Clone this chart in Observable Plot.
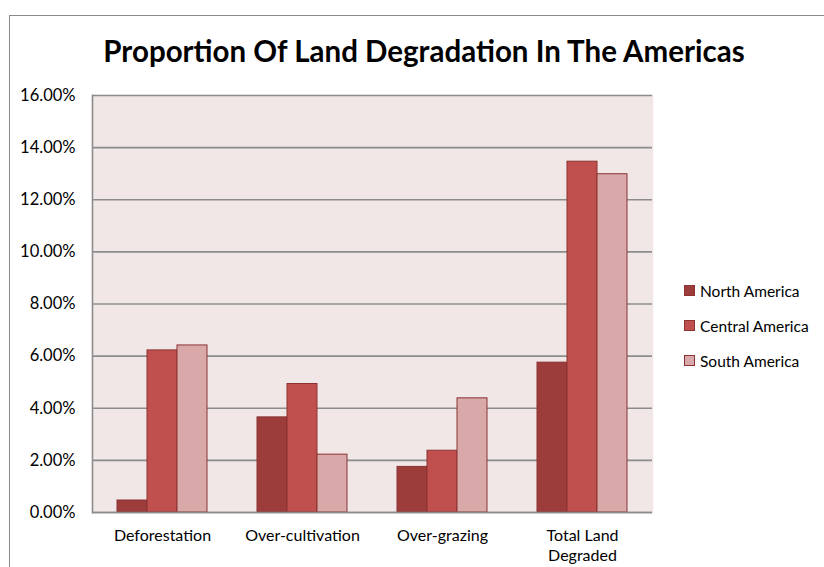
<!DOCTYPE html>
<html>
<head>
<meta charset="utf-8">
<script src="https://cdn.jsdelivr.net/npm/d3@7"></script>
<script src="https://cdn.jsdelivr.net/npm/@observablehq/plot@0.6"></script>
<style>
  html, body { margin: 0; padding: 0; background: #fff; }
  #wrap { position: relative; width: 824px; height: 567px; overflow: hidden; font-family: Lato, "Open Sans", sans-serif; }
  #border { position: absolute; left: 9px; top: 15px; width: 900px; height: 700px; border-top: 1.5px solid #8a8a8a; border-left: 1.5px solid #8a8a8a; }
  #title { position: absolute; left: 0; width: 848px; top: 33px; text-align: center; font-weight: 700; font-size: 29.5px; color: #000; }
  #chart { position: absolute; left: 0; top: 0; }
  #legend { position: absolute; left: 684px; top: 273px; font-size: 15.5px; color: #000; }
  .item { display: flex; align-items: center; height: 35px; }
  .sw { width: 9px; height: 9px; margin-right: 5px; border: 1px solid #8b3333; }
</style>
</head>
<body>
<div id="wrap">
  <div id="border"></div>
  <div id="chart"></div>
  <div id="title"></div>
  <div id="legend"></div>
</div>
<script>
const titleText = "Proportion Of Land Degradation In The Americas";
const categories = ["Deforestation", "Over-cultivation", "Over-grazing", "Total Land Degraded"];
const series = ["North America", "Central America", "South America"];
const northAmerica = [0.0046, 0.0365, 0.0175, 0.0575];
const centralAmerica = [0.0622, 0.0493, 0.0237, 0.1346];
const southAmerica = [0.0641, 0.0222, 0.0438, 0.1298];
const yTicks = [0, 0.02, 0.04, 0.06, 0.08, 0.10, 0.12, 0.14, 0.16];
const colors = ["#9c3c3b", "#c0504d", "#d9a9a9"];

const seriesValues = [northAmerica, centralAmerica, southAmerica];
const data = [];
categories.forEach((c, i) => {
  series.forEach((s, j) => data.push({category: c, series: s, value: seriesValues[j][i]}));
});

document.getElementById("title").textContent = titleText;

const plot = Plot.plot({
  width: 824,
  height: 567,
  marginLeft: 91,
  marginRight: 172,
  marginTop: 95,
  marginBottom: 55,
  style: {fontFamily: "Lato, 'Open Sans', sans-serif", fontSize: "16px", color: "#000", background: "transparent"},
  fx: {domain: categories, padding: 0, label: null},
  x: {domain: series, paddingInner: 0, paddingOuter: 0.8, axis: null},
  y: {domain: [0, 0.16], label: null},
  color: {domain: series, range: colors},
  marks: [
    Plot.frame({fill: "#f2e7e7", stroke: "#f2e7e7", strokeWidth: 1.5}),
    Plot.gridY(yTicks, {stroke: "#8c8c8c", strokeOpacity: 1, strokeWidth: 1.6}),
    Plot.barY(data, {fx: "category", x: "series", y: "value", fill: "series", stroke: "#8b3333", strokeWidth: 1}),
    Plot.ruleY([0], {stroke: "#8c8c8c", strokeWidth: 1.6}),
    Plot.frame({anchor: "left", facetAnchor: "left", stroke: "#8c8c8c", strokeWidth: 1.6, strokeOpacity: 1}),
    Plot.axisY(yTicks, {tickFormat: d3.format(".2%"), tickSize: 0, tickPadding: 17, fontSize: 16.5, label: null, anchor: "left"}),
    Plot.axisFx({tickSize: 0, tickPadding: 14, label: null, anchor: "bottom", lineHeight: 1.25,
      tickFormat: d => d === "Total Land Degraded" ? "Total Land\nDegraded" : d})
  ]
});
document.getElementById("chart").appendChild(plot);

const legend = document.getElementById("legend");
series.forEach((s, i) => {
  const item = document.createElement("div");
  item.className = "item";
  const sw = document.createElement("div");
  sw.className = "sw";
  sw.style.background = colors[i];
  const t = document.createElement("span");
  t.textContent = s;
  item.appendChild(sw);
  item.appendChild(t);
  legend.appendChild(item);
});
</script>
</body>
</html>
